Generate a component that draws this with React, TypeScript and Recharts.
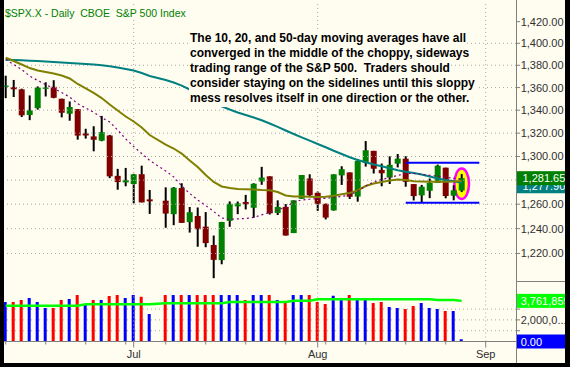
import React from 'react';
import { ComposedChart, Bar, Line, XAxis, YAxis, Cell, ReferenceLine, ReferenceDot } from 'recharts';

const FONT = "'Liberation Sans', Arial, Helvetica, sans-serif";
const CREAM = '#FFFCF0';
const GRID = '#A8A8A8';
const AXIS = '#808080';
const LABEL = '#303030';

// trading days shown, June 9 .. Aug 27 2008
const tradingDays = [
  '06-09', '06-10', '06-11', '06-12', '06-13', '06-16', '06-17', '06-18', '06-19', '06-20',
  '06-23', '06-24', '06-25', '06-26', '06-27', '06-30', '07-01', '07-02', '07-03', '07-07',
  '07-08', '07-09', '07-10', '07-11', '07-14', '07-15', '07-16', '07-17', '07-18', '07-21',
  '07-22', '07-23', '07-24', '07-25', '07-28', '07-29', '07-30', '07-31', '08-01', '08-04',
  '08-05', '08-06', '08-07', '08-08', '08-11', '08-12', '08-13', '08-14', '08-15', '08-18',
  '08-19', '08-20', '08-21', '08-22', '08-25', '08-26', '08-27',
];

const opens = [
  1360.8, 1360.5, 1358.4, 1335.8, 1341.8, 1358.9, 1360.7, 1350.1, 1336.9, 1341.0,
  1319.8, 1317.2, 1313.5, 1318.0, 1283.6, 1278.1, 1276.7, 1285.0, 1264.0, 1262.9,
  1251.8, 1273.4, 1245.3, 1250.3, 1241.6, 1226.8, 1214.7, 1246.3, 1258.2, 1261.8,
  1257.1, 1278.9, 1283.2, 1252.8, 1257.8, 1236.4, 1264.5, 1281.4, 1269.4, 1260.3,
  1254.9, 1284.0, 1286.5, 1266.3, 1294.4, 1304.8, 1288.6, 1282.1, 1293.9, 1298.1,
  1276.7, 1267.3, 1271.1, 1277.6, 1290.5, 1267.0, 1271.3,
];
const highs = [
  1370.6, 1366.8, 1359.0, 1353.0, 1361.0, 1364.7, 1366.6, 1350.1, 1347.7, 1341.0,
  1323.8, 1326.0, 1335.0, 1318.5, 1289.5, 1290.3, 1285.3, 1292.2, 1271.8, 1274.0,
  1274.2, 1277.4, 1257.7, 1257.3, 1253.5, 1234.4, 1245.5, 1262.3, 1262.2, 1267.7,
  1277.4, 1291.2, 1283.2, 1263.2, 1260.1, 1263.2, 1284.3, 1284.9, 1270.5, 1260.5,
  1284.9, 1291.7, 1286.5, 1297.9, 1313.2, 1304.8, 1294.0, 1300.1, 1302.1, 1300.2,
  1276.7, 1276.0, 1281.4, 1293.1, 1290.5, 1275.7, 1285.1,
];
const lows = [
  1350.6, 1351.6, 1334.0, 1331.3, 1340.5, 1352.1, 1350.5, 1333.7, 1330.8, 1314.4,
  1315.3, 1304.4, 1313.0, 1281.7, 1272.0, 1274.9, 1260.7, 1261.5, 1252.0, 1240.7,
  1242.8, 1244.6, 1236.8, 1225.4, 1225.0, 1200.4, 1211.4, 1241.5, 1251.8, 1255.7,
  1248.8, 1276.1, 1251.5, 1251.1, 1234.4, 1236.4, 1264.5, 1266.0, 1254.5, 1247.5,
  1254.7, 1276.0, 1264.3, 1262.1, 1291.4, 1285.6, 1274.9, 1276.8, 1290.7, 1274.5,
  1263.1, 1261.2, 1265.0, 1277.6, 1264.9, 1263.2, 1270.0,
];
const closes = [
  1361.8, 1358.4, 1335.5, 1339.9, 1360.0, 1360.1, 1350.9, 1337.8, 1342.8, 1317.9,
  1318.0, 1314.3, 1321.0, 1283.2, 1278.4, 1280.0, 1284.9, 1261.5, 1262.4, 1252.3,
  1273.7, 1244.7, 1253.4, 1239.5, 1228.3, 1214.9, 1245.4, 1260.3, 1260.7, 1260.0,
  1277.0, 1282.2, 1252.5, 1257.8, 1234.4, 1263.2, 1284.3, 1267.4, 1260.3, 1249.0,
  1284.9, 1289.2, 1266.1, 1296.3, 1305.3, 1289.6, 1285.8, 1292.9, 1298.2, 1278.6,
  1266.7, 1274.5, 1277.7, 1292.2, 1266.8, 1271.5, 1281.65,
];

// moving averages as drawn
const sma10 = [
  1385.2, 1380.7, 1376.2, 1370.3, 1366.3, 1362.7, 1359.2, 1355.6, 1351.6, 1345.7,
  1341.9, 1338.2, 1333.6, 1329.7, 1322.7, 1315.0, 1308.5, 1302.5, 1296.6, 1287.7,
  1282.7, 1275.1, 1268.9, 1263.5, 1258.9, 1254.0, 1248.7, 1247.6, 1247.9, 1248.3,
  1249.1, 1251.2, 1253.2, 1255.3, 1257.7, 1261.8, 1263.5, 1264.1, 1264.6, 1264.9,
  1265.6, 1266.4, 1267.6, 1270.9, 1275.1, 1278.5, 1280.6, 1282.2, 1283.9, 1285.6,
  1285.6, 1284.9, 1284.1, 1283.3, 1282.4, 1281.6, 1280.7,
];
const sma20 = [
  1387.0, 1383.9, 1380.7, 1377.5, 1375.3, 1373.9, 1372.6, 1370.8, 1368.1, 1363.2,
  1359.2, 1355.2, 1350.7, 1345.0, 1339.7, 1334.5, 1330.1, 1324.9, 1318.4, 1310.2,
  1306.8, 1302.5, 1296.6, 1291.1, 1284.3, 1278.5, 1274.7, 1273.5, 1272.6, 1272.4,
  1272.2, 1271.8, 1271.6, 1270.1, 1267.2, 1266.4, 1266.4, 1266.2, 1266.0, 1266.2,
  1267.0, 1268.2, 1269.3, 1271.4, 1275.1, 1277.2, 1278.5, 1279.7, 1280.6, 1280.1,
  1279.1, 1278.9, 1278.7, 1278.7, 1278.7, 1278.9, 1279.3,
];
const sma50 = [
  1385.1, 1384.8, 1384.5, 1384.2, 1383.9, 1383.5, 1383.0, 1382.5, 1382.1, 1381.6,
  1381.2, 1380.7, 1380.1, 1379.1, 1378.0, 1376.6, 1375.3, 1373.0, 1370.3, 1366.8,
  1364.5, 1361.8, 1358.3, 1354.7, 1351.2, 1347.7, 1343.4, 1340.6, 1338.0, 1335.8,
  1333.6, 1331.2, 1328.4, 1325.4, 1322.3, 1319.3, 1316.4, 1313.5, 1310.7, 1307.9,
  1304.9, 1302.1, 1299.3, 1297.0, 1295.1, 1293.2, 1291.7, 1290.0, 1288.3, 1287.1,
  1286.0, 1284.8, 1283.1, 1281.4, 1280.1, 1279.1, 1277.9,
];

// volume, millions
const volumes = [
  3.66, 3.66, 3.84, 4.03, 3.66, 3.10, 3.10, 3.84, 3.94, 4.31,
  3.38, 3.84, 3.84, 4.21, 4.31, 4.03, 4.31, 4.15, 2.55, 4.31,
  4.31, 4.31, 4.31, 4.31, 4.31, 4.31, 4.31, 4.31, 4.31, 3.84,
  4.31, 4.31, 4.31, 3.84, 3.66, 4.31, 4.31, 4.31, 3.66, 3.47,
  4.24, 4.03, 4.31, 3.94, 3.84, 3.56, 3.66, 3.19, 3.10, 3.01,
  3.29, 3.56, 3.10, 3.01, 2.82, 2.82, 0.20,
];
const volumeAvg = [
  3.31, 3.31, 3.31, 3.31, 3.31, 3.31, 3.31, 3.31, 3.31, 3.31,
  3.44, 3.44, 3.44, 3.44, 3.44, 3.44, 3.44, 3.44, 3.44, 3.54,
  3.54, 3.54, 3.54, 3.54, 3.54, 3.54, 3.54, 3.66, 3.66, 3.66,
  3.66, 3.66, 3.66, 3.66, 3.66, 3.78, 3.78, 3.78, 3.92, 3.92,
  3.92, 3.92, 3.92, 3.92, 3.92, 3.92, 3.92, 3.92, 3.92, 3.92,
  3.92, 3.92, 3.92, 3.84, 3.84, 3.84, 3.761859,
];

const priceTicks = [1220, 1240, 1260, 1280, 1300, 1320, 1340, 1360, 1380, 1400, 1420];
const priceGrid = [1220, 1240, 1260, 1280, 1300, 1320, 1340, 1360, 1380, 1400];
const volumeGrid = [1, 2, 3];
const volumeLabels = [2, 4];
const rangeHigh = 1294.7;
const rangeLow = 1261.3;
const rangeFrom = 50;
const rangeTo = 59.2;
const highlightPrice = 1277;

const noteLines = [
  'The 10, 20, and 50-day moving averages have all',
  'converged in the middle of the choppy, sideways',
  'trading range of the S&P 500.  Traders should',
  'consider staying on the sidelines until this sloppy',
  'mess resolves itself in one direction or the other.',
];

const MONTHS = ['Jan', 'Feb', 'Mar', 'Apr', 'May', 'Jun', 'Jul', 'Aug', 'Sep', 'Oct', 'Nov', 'Dec'];
const START = Date.UTC(2008, 5, 9);
const DAY = 86400000;
const LAST_SLOT = 63;
const isWeekday = (t: number) => {
  const d = new Date(t).getUTCDay();
  return d > 0 && d < 6;
};
const slotOf = (md: string) => {
  const [m, d] = md.split('-').map(Number);
  const end = Date.UTC(2008, m - 1, d);
  let n = 0;
  for (let t = START; t < end; t += DAY) if (isWeekday(t)) n++;
  return n;
};

const calendarTicks: { slot: number; major: boolean; label: string }[] = [];
{
  let n = 0;
  let prevMonth = -1;
  for (let t = START; n <= LAST_SLOT; t += DAY) {
    if (!isWeekday(t)) continue;
    const dt = new Date(t);
    const m = dt.getUTCMonth();
    const major = prevMonth !== -1 && m !== prevMonth;
    if (major || dt.getUTCDay() === 1) calendarTicks.push({ slot: n, major, label: major ? MONTHS[m] : '' });
    prevMonth = m;
    n++;
  }
}
const monthSlots = calendarTicks.filter((t) => t.major).map((t) => t.slot);

const rows = tradingDays.map((d, k) => ({
  i: slotOf(d),
  o: opens[k],
  h: highs[k],
  l: lows[k],
  c: closes[k],
  ma10: sma10[k],
  ma20: sma20[k],
  ma50: sma50[k],
  vol: volumes[k],
  volAvg: volumeAvg[k],
  up: k === 0 ? closes[0] >= opens[0] : closes[k] >= closes[k - 1],
}));
const last = rows[rows.length - 1];

const xDomain: [number, number] = [-0.2125, 63.7875];
const priceDomain: [number, number] = [1198.2, 1436.5];
const volumeDomain: [number, number] = [0, 5.509];

const fmt2 = (v: number) => v.toLocaleString('en-US', { minimumFractionDigits: 2, maximumFractionDigits: 2 });

function PriceTick(props: any) {
  const { x, y, payload } = props;
  const v = payload.value;
  if (v === last.c || v === last.ma50) {
    const teal = v === last.ma50;
    const cy = teal ? y + 3.6 : y;
    return (
      <g>
        <rect x={x + 0.7} y={cy - 7} width={49} height={14} fill={teal ? '#008080' : '#008000'} />
        <text x={x + 6.5} y={cy + 4} fill="#FFFFFF" fontSize={11} fontFamily={FONT}>{fmt2(v)}</text>
      </g>
    );
  }
  return (
    <g>
      <line x1={x} x2={x + 4} y1={y} y2={y} stroke={AXIS} />
      <text x={x + 4.7} y={y + 4} fill={LABEL} fontSize={11} fontFamily={FONT}>{fmt2(v)}</text>
    </g>
  );
}

function VolumeTick(props: any) {
  const { x, y, payload } = props;
  const v = payload.value;
  if (v === 0 || v === last.volAvg) {
    const isZero = v === 0;
    const text = isZero ? fmt2(0) : Math.round(v * 1e6).toLocaleString('en-US');
    return (
      <g>
        <rect x={x + 0.7} y={y - 7} width={49} height={14} fill={isZero ? '#0000FF' : '#00FF00'} />
        <text x={x + 4.7} y={y + 4} fill="#FFFFFF" fontSize={11} fontFamily={FONT}>{text}</text>
      </g>
    );
  }
  const label = volumeLabels.includes(v) ? fmt2(v * 1e6).slice(0, 7) + '...' : '';
  return (
    <g>
      <line x1={x} x2={x + 4} y1={y} y2={y} stroke={AXIS} />
      {label && <text x={x + 4.7} y={y + 4} fill={LABEL} fontSize={11} fontFamily={FONT}>{label}</text>}
    </g>
  );
}

function DateTick(props: any) {
  const { x, y, payload } = props;
  const t = calendarTicks.find((c) => c.slot === payload.value);
  if (!t) return <g />;
  return (
    <g>
      <line x1={x} x2={x} y1={y} y2={y + (t.major ? 6 : 3)} stroke={AXIS} />
      {t.label && (
        <text x={x} y={y + 16.5} textAnchor="middle" fill={LABEL} fontSize={11} fontFamily={FONT}>{t.label}</text>
      )}
    </g>
  );
}

// highlight ellipse sits under the candles, so it gets its own chart layer below the price chart
function HighlightLayer() {
  return (
    <ComposedChart width={565} height={281} data={rows} margin={{ top: 4, right: 49, bottom: 0, left: 4 }}>
      <XAxis type="number" dataKey="i" domain={xDomain} allowDataOverflow hide />
      <YAxis scale="log" domain={priceDomain} allowDataOverflow hide />
      <ReferenceDot
        x={last.i}
        y={highlightPrice}
        r={2}
        shape={(p: any) => (
          <ellipse cx={p.cx} cy={p.cy} rx={7.3} ry={15.3} fill="#FFFF00" stroke="#FF00FF" strokeWidth={2.5} />
        )}
      />
    </ComposedChart>
  );
}

function PriceChart() {
  return (
    <ComposedChart width={565} height={281} data={rows} margin={{ top: 4, right: 0, bottom: 0, left: 4 }}>
      <XAxis xAxisId="wick" type="number" dataKey="i" domain={xDomain} allowDataOverflow hide />
      <XAxis xAxisId="body" type="number" dataKey="i" domain={xDomain} allowDataOverflow hide />
      <YAxis
        yAxisId="p"
        orientation="right"
        scale="log"
        domain={priceDomain}
        allowDataOverflow
        ticks={[...priceTicks, last.ma50, last.c]}
        interval={0}
        width={49}
        axisLine={false}
        tickLine={false}
        tickSize={0}
        tickMargin={0}
        tick={PriceTick}
      />
      {priceGrid.map((v) => (
        <ReferenceLine key={'h' + v} xAxisId="body" yAxisId="p" y={v} stroke={GRID} strokeDasharray="1 3" />
      ))}
      {monthSlots.map((s) => (
        <ReferenceLine key={'v' + s} xAxisId="body" yAxisId="p" x={s} stroke={GRID} strokeDasharray="1 3" />
      ))}
      <Bar xAxisId="wick" yAxisId="p" dataKey={(r: any) => [r.l, r.h]} barSize={2} fill="#000000" isAnimationActive={false} />
      <Bar
        xAxisId="body"
        yAxisId="p"
        dataKey={(r: any) => [Math.min(r.o, r.c), Math.max(r.o, r.c)]}
        barSize={6}
        isAnimationActive={false}
      >
        {rows.map((r, k) => (
          <Cell key={k} fill={r.c >= r.o ? '#008000' : '#800000'} />
        ))}
      </Bar>
      <ReferenceLine
        xAxisId="body"
        yAxisId="p"
        segment={[{ x: rangeFrom, y: rangeHigh }, { x: rangeTo, y: rangeHigh }]}
        stroke="#0000FF"
        strokeWidth={2}
      />
      <ReferenceLine
        xAxisId="body"
        yAxisId="p"
        segment={[{ x: rangeFrom, y: rangeLow }, { x: rangeTo, y: rangeLow }]}
        stroke="#0000FF"
        strokeWidth={2}
      />
      <Line xAxisId="body" yAxisId="p" dataKey="ma50" stroke="#008080" strokeWidth={2} dot={false} isAnimationActive={false} />
      <Line xAxisId="body" yAxisId="p" dataKey="ma20" stroke="#808000" strokeWidth={2} dot={false} isAnimationActive={false} />
      <Line
        xAxisId="body"
        yAxisId="p"
        dataKey="ma10"
        stroke="#800080"
        strokeWidth={1.2}
        strokeDasharray="2 3"
        dot={false}
        isAnimationActive={false}
      />
    </ComposedChart>
  );
}

function VolumeChart() {
  return (
    <ComposedChart width={565} height={81} data={rows} margin={{ top: 1, right: 0, bottom: 0.5, left: 4 }}>
      <XAxis
        type="number"
        dataKey="i"
        domain={xDomain}
        allowDataOverflow
        ticks={calendarTicks.map((t) => t.slot)}
        interval={0}
        height={20}
        axisLine={{ stroke: AXIS }}
        tickLine={false}
        tickSize={0}
        tickMargin={0}
        tick={DateTick}
      />
      <YAxis
        orientation="right"
        domain={volumeDomain}
        allowDataOverflow
        ticks={[0, 1, 2, 3, 4, last.volAvg]}
        interval={0}
        width={49}
        axisLine={false}
        tickLine={false}
        tickSize={0}
        tickMargin={0}
        tick={VolumeTick}
      />
      {volumeGrid.map((v) => (
        <ReferenceLine key={'h' + v} y={v} stroke={GRID} strokeDasharray="1 3" />
      ))}
      {monthSlots.map((s) => (
        <ReferenceLine key={'v' + s} x={s} stroke={GRID} strokeDasharray="1 3" />
      ))}
      <Bar dataKey="vol" barSize={3} isAnimationActive={false}>
        {rows.map((r, k) => (
          <Cell key={k} fill={r.up ? '#0000FF' : '#FF0000'} />
        ))}
      </Bar>
      <Line dataKey="volAvg" stroke="#00FF00" strokeWidth={2.5} dot={false} isAnimationActive={false} />
    </ComposedChart>
  );
}

export default function App() {
  return (
    <div style={{ position: 'absolute', left: 0, top: 0, width: 570, height: 367, background: '#000', overflow: 'hidden', fontFamily: FONT }}>
      <div style={{ position: 'absolute', left: 4, top: 0, width: 561, height: 362.5, background: CREAM }} />
      <div style={{ position: 'absolute', left: 0, top: 0 }}>
        <HighlightLayer />
      </div>
      <div style={{ position: 'absolute', left: 0, top: 0 }}>
        <PriceChart />
      </div>
      <div style={{ position: 'absolute', left: 0, top: 281 }}>
        <VolumeChart />
      </div>
      <div style={{ position: 'absolute', left: 516, top: 0, width: 1, height: 362.5, background: AXIS }} />
      <div style={{ position: 'absolute', left: 516, top: 281, width: 49, height: 1, background: AXIS }} />
      <div
        style={{
          position: 'absolute',
          left: 5,
          top: 5.7,
          lineHeight: '14px',
          fontSize: 10.5,
          color: '#008000',
          background: CREAM,
          whiteSpace: 'pre',
        }}
      >
        {'$SPX.X - Daily  CBOE  S&P 500 Index'}
      </div>
      <div style={{ position: 'absolute', left: 189, top: 30.7 }}>
        {noteLines.map((t, k) => (
          <div
            key={k}
            style={{
              width: 'fit-content',
              padding: '0 1px',
              height: 15.2,
              lineHeight: '15.2px',
              fontSize: 12,
              fontWeight: 'bold',
              color: '#000',
              background: CREAM,
              whiteSpace: 'pre',
            }}
          >
            {t}
          </div>
        ))}
      </div>
      <div style={{ position: 'absolute', left: 0, top: 0, width: 4, height: 367, background: '#000' }} />
      <div style={{ position: 'absolute', left: 565, top: 0, width: 5, height: 367, background: '#000' }} />
      <div style={{ position: 'absolute', left: 0, top: 362.5, width: 570, height: 5, background: '#000' }} />
    </div>
  );
}
